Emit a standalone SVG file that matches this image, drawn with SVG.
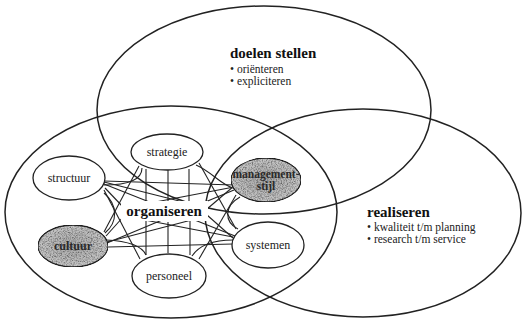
<svg xmlns="http://www.w3.org/2000/svg" width="522" height="321" viewBox="0 0 522 321">
<style>
.big{fill:none;stroke:#222;stroke-width:1.5}
.node{fill:#fff;stroke:#222;stroke-width:1.3}
.shade{stroke:#222;stroke-width:1.3}
.con path{fill:none;stroke:#222;stroke-width:1.1}
.lbl{font-family:"Liberation Serif",serif;font-size:12px;fill:#222;text-anchor:middle}
.slbl{font-family:"Liberation Serif",serif;font-weight:bold;fill:#2a2a2a;text-anchor:middle}
.h{font-family:"Liberation Serif",serif;font-weight:bold;font-size:15px;fill:#111}
.b{font-family:"Liberation Serif",serif;font-size:11.5px;fill:#222}
</style>
<defs>
<radialGradient id="gr" cx="0.5" cy="0.5" r="0.6">
<stop offset="0" stop-color="#a8a8a8"/>
<stop offset="1" stop-color="#cccccc"/>
</radialGradient>
<filter id="grain" x="0" y="0" width="100%" height="100%" color-interpolation-filters="sRGB">
<feTurbulence type="fractalNoise" baseFrequency="0.8" numOctaves="2" seed="4" result="n"/>
<feColorMatrix in="n" type="matrix" values="0.7 0.7 0 0 0.2  0.7 0.7 0 0 0.2  0.7 0.7 0 0 0.2  0 0 0 0 1" result="g"/>
<feComposite in="g" in2="SourceGraphic" operator="in" result="gc"/>
<feBlend in="SourceGraphic" in2="gc" mode="multiply" result="m"/>
<feComposite in="m" in2="SourceGraphic" operator="in"/>
</filter>
</defs>
<rect width="522" height="321" fill="#fff"/>
<g id="doelen-stellen">
<ellipse class="big" cx="264" cy="110" rx="167" ry="104"/>
<text class="h" x="230" y="58">doelen stellen</text>
<text class="b" x="230" y="73">• oriënteren</text>
<text class="b" x="230" y="85">• expliciteren</text>
</g>
<g id="realiseren">
<ellipse class="big" cx="363" cy="213" rx="158" ry="104"/>
<text class="h" x="367" y="217">realiseren</text>
<text class="b" x="367" y="231">• kwaliteit t/m planning</text>
<text class="b" x="367" y="243">• research t/m service</text>
</g>
<g id="organiseren-area">
<ellipse class="big" cx="171" cy="212" rx="166" ry="106"/>
</g>
<g id="connectors" class="con">
<path d="M146,169 L146,204"/>
<path d="M168,170 L168,203"/>
<path d="M189,169 L189,204"/>
<path d="M146,221 L146,255"/>
<path d="M168,222 L168,253"/>
<path d="M190,221 L190,255"/>
<path d="M142,168 C142,182 122,185 104,185"/>
<path d="M196,165 C212,172 220,184 233,188"/>
<path d="M104,193 C118,205 118,222 105,233"/>
<path d="M106,240 C128,241 142,246 146,255"/>
<path d="M192,256 C200,244 216,240 233,240"/>
<path d="M240,197 C224,206 224,222 238,229"/>
<path d="M104,181 L234,185"/>
<path d="M104,184 L235,236"/>
<path d="M107,243 L234,190"/>
<path d="M108,247 L233,244"/>
<path d="M105,188 L124,208"/>
<path d="M106,236 L124,216"/>
<path d="M234,186 L207,209"/>
<path d="M233,238 L207,215"/>
<path d="M199,163 L236,229"/>
<path d="M199,259 L236,195"/>
<path d="M139,166 L104,232"/>
<path d="M140,259 L104,190"/>
<path d="M104,182 L207,208"/>
<path d="M107,242 L207,216"/>
<path d="M234,187 L124,208"/>
<path d="M233,237 L124,216"/>
</g>
<g id="organiseren">
<rect x="121" y="201" width="87" height="20" fill="#fff"/>
<text class="h" x="164" y="216" text-anchor="middle">organiseren</text>
</g>
<g id="strategie">
<ellipse class="node" cx="167" cy="152" rx="36" ry="18"/>
<text class="lbl" x="167" y="156">strategie</text>
</g>
<g id="structuur">
<ellipse class="node" cx="69" cy="178" rx="36" ry="22"/>
<text class="lbl" x="69" y="182">structuur</text>
</g>
<g id="cultuur">
<ellipse class="shade" cx="73" cy="246" rx="35" ry="21" fill="url(#gr)" filter="url(#grain)"/>
<text class="slbl" x="73" y="250" font-size="12">cultuur</text>
</g>
<g id="personeel">
<ellipse class="node" cx="169" cy="276" rx="37" ry="22"/>
<text class="lbl" x="169" y="280">personeel</text>
</g>
<g id="managementstijl">
<ellipse class="shade" cx="266" cy="180" rx="35" ry="22" fill="url(#gr)" filter="url(#grain)"/>
<text class="slbl" x="266" y="178" font-size="11.5">management-</text>
<text class="slbl" x="266" y="190" font-size="11.5">stijl</text>
</g>
<g id="systemen">
<ellipse class="node" cx="268" cy="245" rx="36" ry="23"/>
<text class="lbl" x="268" y="249">systemen</text>
</g>
</svg>
